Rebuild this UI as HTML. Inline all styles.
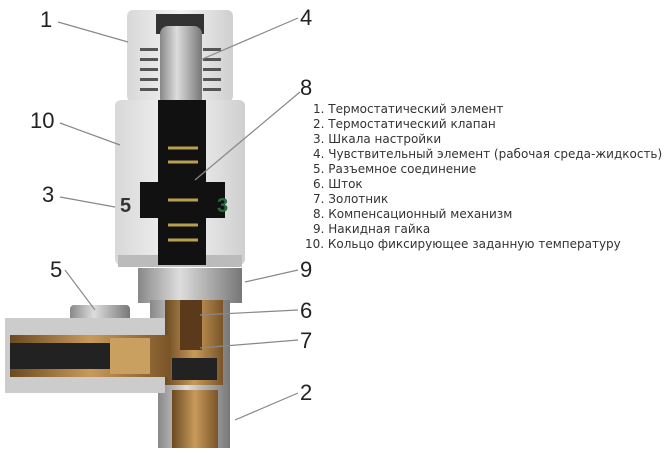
<!DOCTYPE html>
<html><head><meta charset="utf-8"><style>
body{margin:0;width:670px;height:448px;background:#fff;overflow:hidden;font-family:"Liberation Sans","DejaVu Sans",sans-serif}
</style></head><body>
<svg width="670" height="448" viewBox="0 0 670 448" xmlns="http://www.w3.org/2000/svg">
<defs>
<linearGradient id="met" x1="0" x2="1"><stop offset="0" stop-color="#888"/><stop offset=".4" stop-color="#ddd"/><stop offset="1" stop-color="#777"/></linearGradient>
<linearGradient id="brass" x1="0" x2="1"><stop offset="0" stop-color="#6b4a22"/><stop offset=".5" stop-color="#c89a5a"/><stop offset="1" stop-color="#7a5428"/></linearGradient>
<linearGradient id="grey" x1="0" x2="1"><stop offset="0" stop-color="#d8d8d8"/><stop offset=".5" stop-color="#f4f4f4"/><stop offset="1" stop-color="#cfcfcf"/></linearGradient>
</defs>
<rect x="127" y="10" width="106" height="92" rx="6" fill="url(#grey)"/>
<g fill="#555">
<rect x="140" y="48" width="18" height="3"/><rect x="140" y="58" width="18" height="3"/><rect x="140" y="68" width="18" height="3"/><rect x="140" y="78" width="18" height="3"/><rect x="140" y="88" width="18" height="3"/>
<rect x="203" y="48" width="18" height="3"/><rect x="203" y="58" width="18" height="3"/><rect x="203" y="68" width="18" height="3"/><rect x="203" y="78" width="18" height="3"/><rect x="203" y="88" width="18" height="3"/>
</g>
<rect x="156" y="14" width="48" height="20" fill="#333"/>
<rect x="160" y="26" width="42" height="80" rx="8" fill="url(#met)"/>
<rect x="115" y="100" width="130" height="165" rx="6" fill="url(#grey)"/>
<rect x="118" y="255" width="124" height="12" fill="#bbb"/>
<rect x="158" y="100" width="48" height="165" fill="#111"/>
<rect x="140" y="182" width="85" height="36" fill="#111"/>
<g fill="none" stroke="#b9a050" stroke-width="3">
<path d="M168 148h30M168 162h30M168 200h30M168 225h30M168 240h30"/></g>
<text x="120" y="212" font-size="20" font-weight="bold" fill="#333">5</text>
<text x="217" y="212" font-size="20" font-weight="bold" fill="#2a6a40">3</text>
<rect x="138" y="268" width="104" height="35" fill="url(#met)"/>
<rect x="150" y="300" width="80" height="85" fill="url(#met)"/>
<rect x="165" y="300" width="58" height="140" fill="url(#brass)"/>
<rect x="180" y="300" width="22" height="50" fill="#5a3a1a"/>
<rect x="172" y="358" width="45" height="22" fill="#222"/>
<rect x="158" y="385" width="72" height="63" fill="url(#met)"/>
<rect x="172" y="390" width="46" height="58" fill="url(#brass)"/>
<rect x="70" y="305" width="60" height="30" rx="4" fill="url(#met)"/>
<rect x="5" y="318" width="160" height="75" fill="#ccc"/>
<rect x="10" y="335" width="160" height="42" fill="url(#brass)"/>
<rect x="10" y="343" width="100" height="26" fill="#222"/>
<rect x="110" y="338" width="40" height="36" fill="#c9a060"/>
<g stroke="#888" stroke-width="1.2" fill="#e33">
<line x1="58" y1="22" x2="128" y2="42"/><line x1="298" y1="18" x2="200" y2="60"/>
<line x1="300" y1="92" x2="195" y2="180"/><line x1="60" y1="123" x2="120" y2="145"/>
<line x1="60" y1="197" x2="115" y2="207"/><line x1="65" y1="270" x2="95" y2="310"/>
<line x1="298" y1="270" x2="245" y2="282"/><line x1="298" y1="310" x2="200" y2="315"/>
<line x1="298" y1="340" x2="200" y2="348"/><line x1="298" y1="393" x2="235" y2="420"/>
</g>
<g font-size="22" fill="#222">
<text x="40" y="27">1</text><text x="300" y="25">4</text><text x="300" y="95">8</text>
<text x="30" y="128">10</text><text x="42" y="202">3</text><text x="50" y="277">5</text>
<text x="300" y="277">9</text><text x="300" y="318">6</text><text x="300" y="348">7</text><text x="300" y="400">2</text>
</g>
<g font-size="12" fill="#333" font-family="'DejaVu Sans',sans-serif">
<text x="313" y="113">1.  Термостатический элемент</text>
<text x="313" y="128">2.  Термостатический клапан</text>
<text x="313" y="143">3.  Шкала настройки</text>
<text x="313" y="158">4.  Чувствительный элемент (рабочая среда-жидкость)</text>
<text x="313" y="173">5.  Разъемное соединение</text>
<text x="313" y="188">6.  Шток</text>
<text x="313" y="203">7.  Золотник</text>
<text x="313" y="218">8.  Компенсационный механизм</text>
<text x="313" y="233">9.  Накидная гайка</text>
<text x="305" y="248">10.  Кольцо фиксирующее заданную температуру</text>
</g>
</svg>
</body></html>
